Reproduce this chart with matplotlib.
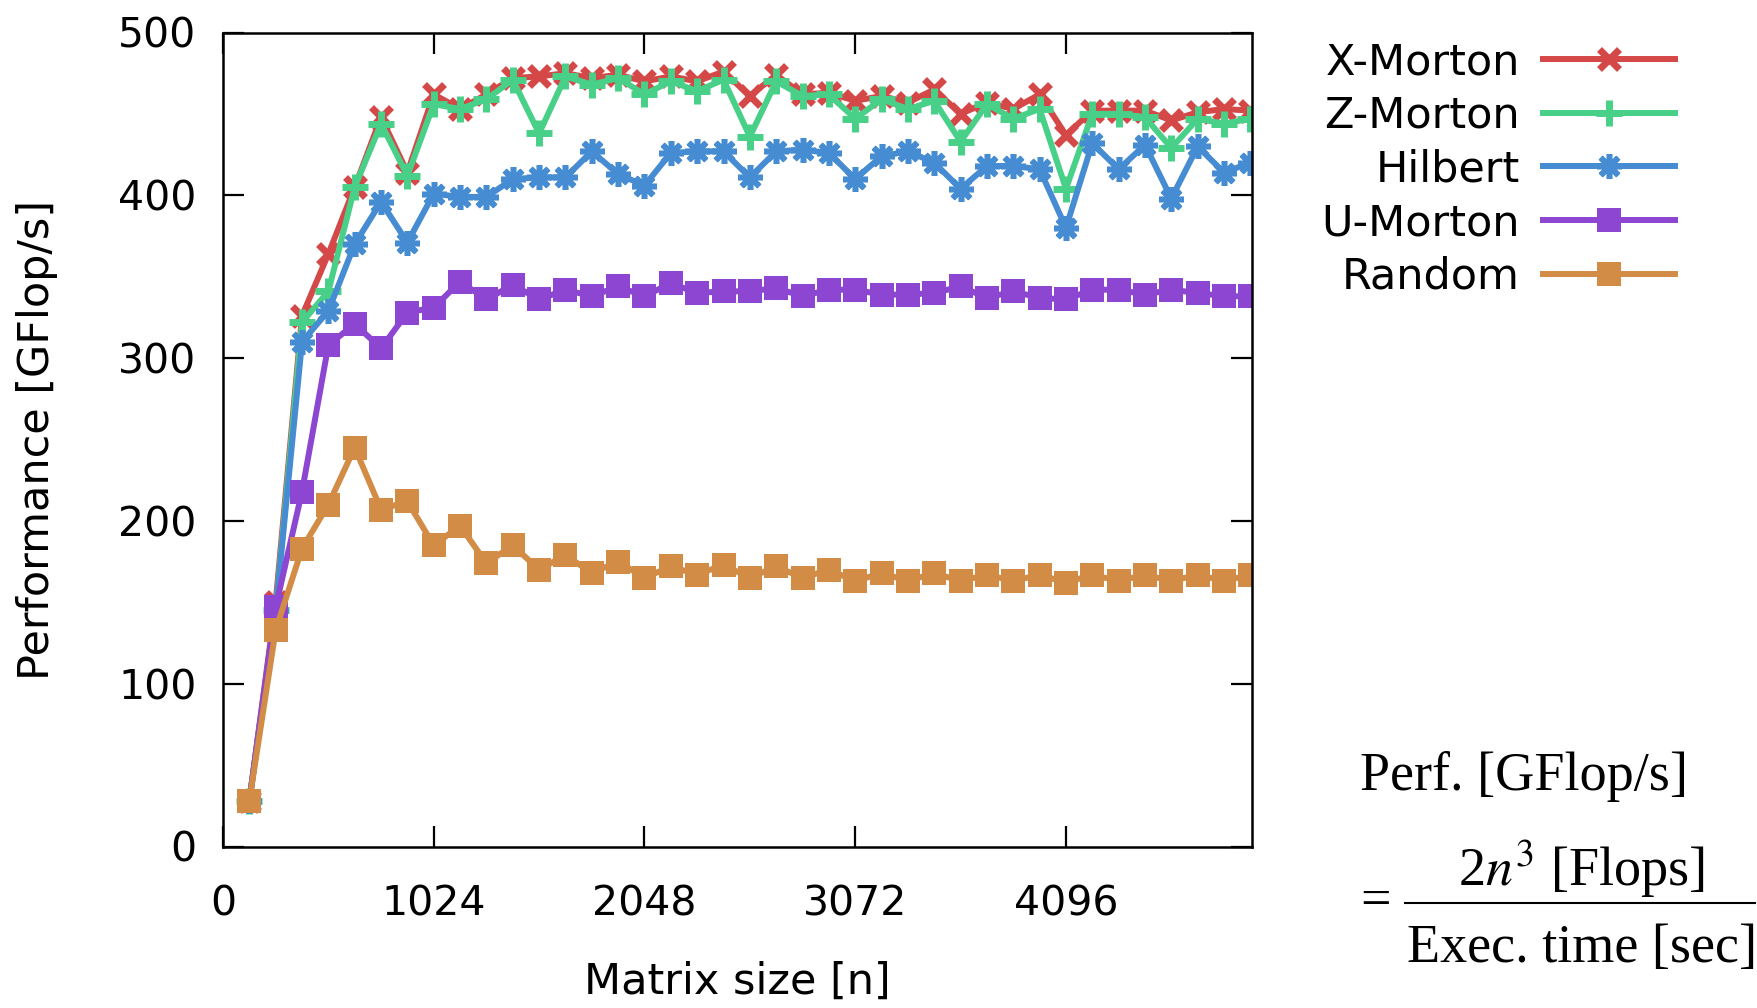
import numpy as np
import matplotlib
matplotlib.use('Agg')
import matplotlib.pyplot as plt
from matplotlib.lines import Line2D

plt.rcParams['font.family'] = ['DejaVu Sans']
plt.rcParams['mathtext.fontset'] = 'stix'

# matrix sizes, every 128
n = [128 * k for k in range(1, 40)]

x_morton = [28, 150, 326, 364, 405, 448, 414, 462, 453, 462, 472, 473, 475, 472, 474, 470, 473, 470, 476, 461,
            474, 462, 463, 458, 461, 457, 465, 450, 457, 453, 462, 437, 452, 452, 452, 446, 451, 453, 452]
z_morton = [28, 145, 322, 341, 405, 444, 412, 456, 453, 459, 471, 438, 473, 468, 472, 462, 470, 464, 471, 436,
            470, 461, 462, 447, 459, 453, 458, 433, 456, 447, 453, 404, 450, 450, 448, 429, 447, 444, 447]
hilbert = [28, 145, 310, 329, 370, 396, 371, 401, 399, 399, 410, 411, 411, 427, 413, 406, 426, 427, 427, 411,
           427, 428, 426, 410, 424, 427, 420, 404, 418, 418, 416, 380, 432, 416, 431, 398, 430, 414, 420]
u_morton = [28, 147, 218, 308, 321, 306, 328, 331, 347, 336, 345, 336, 342, 338, 344, 338, 346, 340, 341, 341,
            343, 338, 342, 342, 339, 339, 340, 344, 337, 341, 337, 336, 342, 342, 339, 342, 340, 338, 338]
rand = [28, 133, 183, 210, 245, 207, 212, 185, 197, 174, 185, 170, 179, 168, 175, 165, 172, 167, 173, 165,
        172, 165, 170, 163, 168, 163, 168, 163, 167, 163, 167, 162, 167, 163, 167, 163, 167, 163, 167]

labels = ['X-Morton', 'Z-Morton', 'Hilbert', 'U-Morton', 'Random']
colors = ['#d44848', '#48d088', '#468cd2', '#8c46d2', '#d28c46']
xticks = [0, 1024, 2048, 3072, 4096]
yticks = [0, 100, 200, 300, 400, 500]

W, H = 1758, 1008
fig = plt.figure(figsize=(W / 100, H / 100), dpi=100)
ax = fig.add_axes([223 / W, 1 - 846.5 / H, (1252 - 223) / W, (846.5 - 32.5) / H])

lw = 4.3
ax.plot(n, x_morton, color=colors[0], lw=lw, marker='x', ms=15, mew=5, label=labels[0])
ax.plot(n, z_morton, color=colors[1], lw=lw, marker='+', ms=19, mew=5, label=labels[1])
ax.plot(n, hilbert, color=colors[2], lw=lw, marker=(8, 2, 0), ms=18, mew=4, label=labels[2])
ax.plot(n, u_morton, color=colors[3], lw=lw, marker='s', ms=17, mew=0, label=labels[3])
ax.plot(n, rand, color=colors[4], lw=lw, marker='s', ms=17, mew=0, label=labels[4])

ax.set_xlim(0, 5000)
ax.set_ylim(0, 500)
ax.set_xticks(xticks)
ax.set_yticks(yticks)
ax.tick_params(direction='in', length=15, width=1.6, top=True, right=True, labelsize=29.5)
ax.tick_params(axis='x', pad=27)
ax.tick_params(axis='y', pad=19)
for s in ax.spines.values():
    s.set_linewidth(1.8)

ax.set_xlabel('Matrix size [n]', fontsize=31)
ax.set_ylabel('Performance [GFlop/s]', fontsize=31)
ax.xaxis.set_label_coords(0.5, -0.14)
ax.yaxis.set_label_coords(-0.16, 0.5)

ax.legend(loc='upper right', bbox_to_anchor=(1692 / W, 1 - 24 / H), bbox_transform=fig.transFigure,
          frameon=False, markerfirst=False, fontsize=31, handlelength=3.05, handletextpad=0.55,
          labelspacing=0.27, borderaxespad=0)

# formula
fs = 39
fig.text(1360 / W, 1 - 790 / H, 'Perf. [GFlop/s]', family='Liberation Serif', fontsize=fs, va='baseline')
fig.text(1376 / W, 1 - 903 / H, '=', family='Liberation Serif', fontsize=fs, va='center', ha='center')
fig.text(1581 / W, 1 - 886 / H, r'2$n^3$ [Flops]', family='Liberation Serif', fontsize=fs, va='baseline', ha='center')
fig.add_artist(Line2D([1405 / W, 1755 / W], [1 - 903 / H, 1 - 903 / H], color='black', lw=1.5))
fig.text(1582 / W, 1 - 962 / H, 'Exec. time [sec]', family='Liberation Serif', fontsize=fs, va='baseline', ha='center')

fig.savefig('out.png', dpi=100)
